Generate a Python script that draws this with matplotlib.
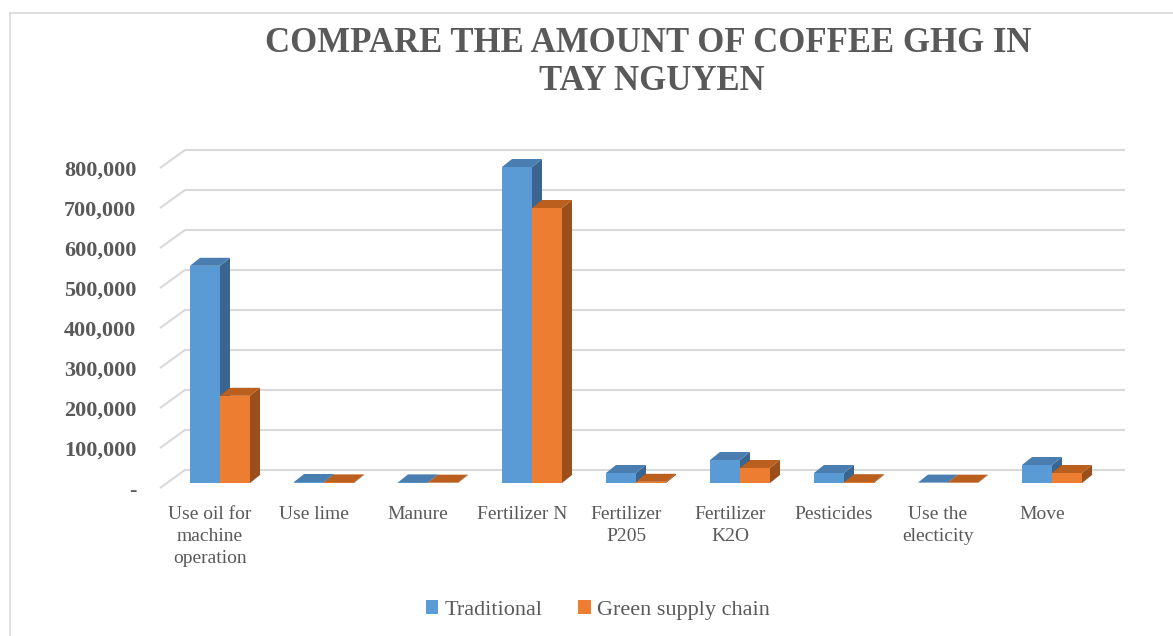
import matplotlib.pyplot as plt
from matplotlib.patches import Polygon, Patch
from matplotlib.lines import Line2D

# GHG emission sources and the two scenarios
categories = ["Use oil for\nmachine\noperation", "Use lime", "Manure", "Fertilizer N",
              "Fertilizer\nP205", "Fertilizer\nK2O", "Pesticides", "Use the\nelecticity", "Move"]
traditional = [543000, 2500, 1500, 790000, 25000, 57500, 25000, 1000, 45000]
green_chain = [218000, 1500, 800, 687500, 3000, 37500, 2000, 800, 25000]
y_ticks = [0, 100000, 200000, 300000, 400000, 500000, 600000, 700000, 800000]

W, H = 1173, 636
fig = plt.figure(figsize=(W / 100, H / 100), dpi=100)
plt.rcParams['font.family'] = ['Liberation Serif', 'DejaVu Serif']
TXT = "#595959"
GRID = "#d9d9d9"

# axes box in pixels (front plane of the fake 3D floor)
ax_l, ax_r, ax_b, ax_t = 160, 1125, 488, 150
ax = fig.add_axes([ax_l / W, 1 - ax_b / H, (ax_r - ax_l) / W, (ax_b - ax_t) / H])

# pixel -> data conversion
XPX = 1 / 104.0
YPX = 100000 / 40.0
x0 = (ax_l - 210) * XPX
x1 = (ax_r - 210) * XPX
ax.set_xlim(x0, x1)
ax.set_ylim(0, (ax_b - ax_t) * YPX)

# depth offsets
back_dx, back_dy = 25 * XPX, 18 * YPX
bar_dx, bar_dy = 10 * XPX, 5 * YPX
side_dx, side_dy = 10 * XPX, 8 * YPX
bw = 30 * XPX

# gridlines: slanted wall segment + back line
for v in y_ticks:
    ax.plot([x0, x0 + back_dx, x1], [v, v + back_dy, v + back_dy],
            color=GRID, lw=1.5, clip_on=False, zorder=1, solid_capstyle='butt')


def bar3d(xl, val, front, top, side):
    xr = xl + bw
    b = bar_dy
    ax.add_patch(Polygon([(xl, b), (xr, b), (xr, b + val), (xl, b + val)],
                         closed=True, fc=front, ec='none', zorder=3, clip_on=False))
    ax.add_patch(Polygon([(xr, b), (xr + side_dx, b + side_dy),
                          (xr + side_dx, b + val + side_dy), (xr, b + val)],
                         closed=True, fc=side, ec='none', zorder=3, clip_on=False))
    ax.add_patch(Polygon([(xl, b + val), (xr, b + val),
                          (xr + side_dx, b + val + side_dy), (xl + side_dx, b + val + side_dy)],
                         closed=True, fc=top, ec='none', zorder=3, clip_on=False))


for i, (t, g) in enumerate(zip(traditional, green_chain)):
    c = i + bar_dx
    bar3d(c - bw, t, "#5b9bd5", "#4a7db0", "#3a6590")
    bar3d(c, g, "#ed7d31", "#bb5f1f", "#9c4e1b")

for s in ax.spines.values():
    s.set_visible(False)
ax.set_yticks(y_ticks)
ax.set_yticklabels(["-" if v == 0 else f"{v:,}" for v in y_ticks],
                   fontsize=16, fontweight='bold', color=TXT)
ax.set_xticks(range(len(categories)))
ax.set_xticklabels(categories, fontsize=14, color=TXT, linespacing=1.4)
ax.tick_params(axis='y', length=0, pad=17)
ax.tick_params(axis='x', length=0, pad=13)

fig.text(648 / W, 1 - 44 / H, "COMPARE THE AMOUNT OF COFFEE GHG IN", ha='center', va='center',
         fontsize=25, fontweight='bold', color=TXT)
fig.text(652 / W, 1 - 81 / H, "TAY NGUYEN", ha='center', va='center',
         fontsize=25, fontweight='bold', color=TXT)

handles = [Patch(fc="#5b9bd5", ec='none', label="Traditional"),
           Patch(fc="#ed7d31", ec='none', label="Green supply chain")]
fig.legend(handles=handles, loc='center', bbox_to_anchor=(598 / W, 1 - 610 / H), ncol=2,
           frameon=False, fontsize=16, handlelength=0.55, handleheight=0.55,
           handletextpad=0.3, columnspacing=1.6, labelcolor=TXT)

# chart frame
fig.add_artist(Line2D([10 / W, 10 / W], [0, 1 - 13 / H], color=GRID, lw=1.2))
fig.add_artist(Line2D([10 / W, 1], [1 - 13 / H, 1 - 13 / H], color=GRID, lw=1.2))

fig.savefig("out.png", dpi=100)
